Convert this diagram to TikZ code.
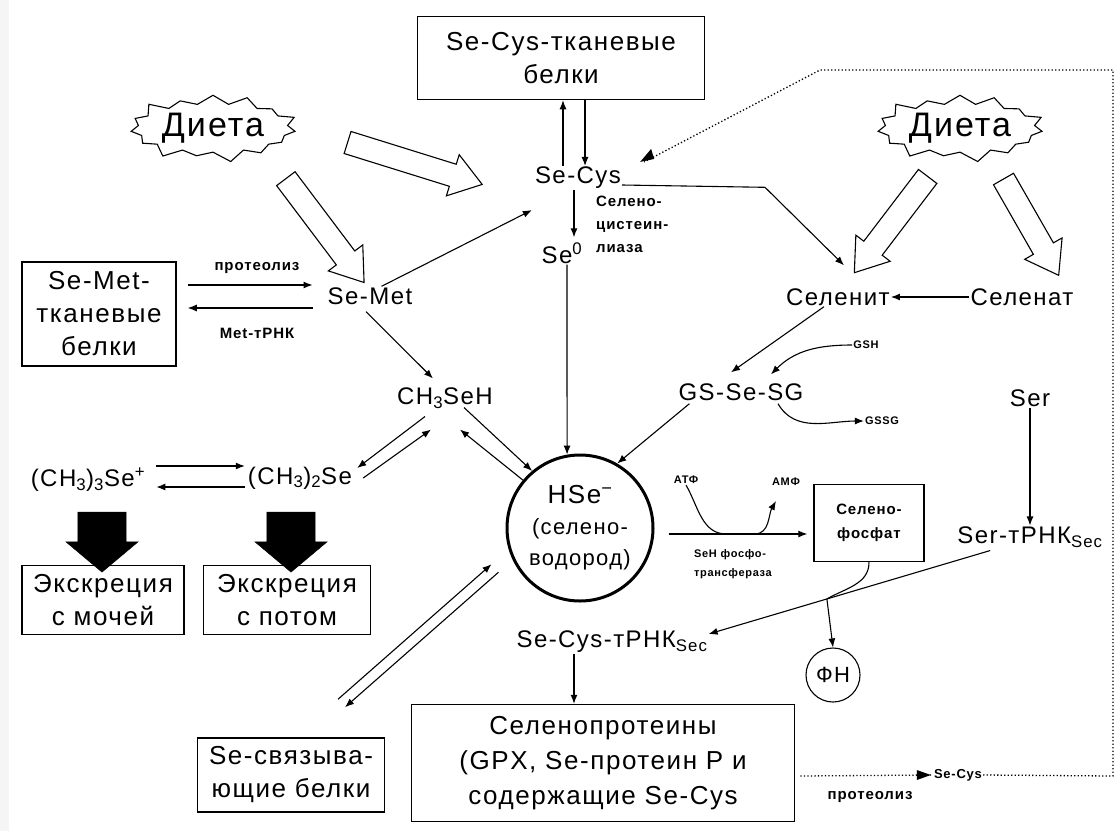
\documentclass[tikz,border=0pt]{standalone}
\usepackage{fontspec}
\setmainfont{Liberation Sans}[LetterSpace=6]
\usetikzlibrary{shapes.symbols,shapes.arrows,shapes.geometric,arrows.meta,calc}
\newcommand\fsz[2]{\fontsize{#1}{#2}\selectfont}
\begin{document}
\begin{tikzpicture}[x=1pt,y=-1pt,
  lab/.style={font=\fsz{24}{28}, inner sep=1pt},
  box/.style={draw, line width=1.5pt, align=center, inner sep=0pt, font=\fsz{26}{33}},
  small/.style={font=\bfseries\fsz{15}{23}, inner sep=1pt, align=left},
  tiny/.style={font=\bfseries\fsz{11}{19}, inner sep=1pt, align=left},
  diet/.style={starburst, draw, line width=1.1pt, starburst points=15, starburst point height=12pt, inner sep=2pt, font=\fsz{34}{36}},
  hollow/.style={single arrow, draw, line width=1.1pt, fill=white, inner xsep=0pt, inner ysep=11pt, single arrow head extend=10pt, single arrow tip angle=70},
  solidarrow/.style={single arrow, draw, fill=black, inner xsep=0pt, inner ysep=24pt, single arrow head extend=12pt, single arrow tip angle=100},
  arr/.style={-{Latex[length=9pt,width=7pt]}, line width=1.1pt},
  dotline/.style={line width=1.3pt, dash pattern=on 1.3pt off 2.2pt}
]
\useasboundingbox (0,0) rectangle (1120,831);
\fill[gray!8] (0,0) rectangle (9,831);

% nodes
\node[box, minimum width=287, minimum height=83] (tbox) at (561,58) {Se-Cys-тканевые\\белки};
\node[lab] (secys) at (578,178) {Se-Cys};
\node[diet] (diet1) at (213,128) {Диета};
\node[diet] (diet2) at (960,128) {Диета};
\node[box, minimum width=154, minimum height=104] (metbox) at (99,314) {Se-Met-\\тканевые\\белки};
\node[lab] (semet) at (370,296) {Se-Met};
\node[lab] (se0) at (562,253) {Se\textsuperscript{0}};
\node[small, anchor=north west] (lyase) at (595,195) {Селено-\\цистеин-\\лиаза};
\node[lab] (selenit) at (838,297) {Селенит};
\node[lab] (selenat) at (1022,297) {Селенат};
\node[lab] (ch3seh) at (445,398) {CH\textsubscript{3}SeH};
\node[lab] (gssg) at (741,392) {GS-Se-SG};
\node[tiny] (gsh) at (866,345) {GSH};
\node[tiny] (gssgout) at (882,421) {GSSG};
\node[lab] (ser) at (1030,398) {Ser};
\node[circle, draw, line width=3pt, minimum size=146, inner sep=0pt, align=center, font=\fsz{22}{31}] (hse) at (580,528) {{\fsz{26}{31}HSe\textsuperscript{−}}\\(селено-\\водород)};
\node[lab] (me3) at (88,480) {(CH\textsubscript{3})\textsubscript{3}Se\textsuperscript{+}};
\node[lab] (me2) at (300,478) {(CH\textsubscript{3})\textsubscript{2}Se};
\node[box, minimum width=162, minimum height=69] (exc1) at (103,600) {Экскреция\\с мочей};
\node[box, minimum width=167, minimum height=69] (exc2) at (287,600) {Экскреция\\с потом};
\node[tiny] (atp) at (686,480) {АТФ};
\node[tiny] (amp) at (786,482) {АМФ};
\node[box, minimum width=110, minimum height=77, font=\bfseries\fsz{15}{24}] (sphos) at (869,523) {Селено-\\фосфат};
\node[tiny, anchor=north] (transf) at (733,548) {SeH фосфо-\\трансфераза};
\node[lab] (sertrna) at (1030,537) {Ser-тРНК\textsubscript{Sec}};
\node[lab] (sectrna) at (612,642) {Se-Cys-тРНК\textsubscript{Sec}};
\node[circle, draw, line width=1.1pt, minimum size=54, inner sep=0pt, font=\fsz{22}{24}] (fn) at (833,675) {ФН};
\node[box, minimum width=383, minimum height=117, font=\fsz{26}{35}] (sprot) at (603,763) {Селенопротеины\\(GPX, Se-протеин P и\\содержащие Se-Cys};
\node[box, minimum width=187, minimum height=74] (sebind) at (291,775) {Se-связыва-\\ющие белки};
\node[small] (prot1) at (257,268) {протеолиз};
\node[small] (metrna) at (257,333) {Met-тРНК};
\node[small] (prot2) at (870,797) {протеолиз};
\node[tiny, font=\bfseries\fsz{13}{15}] (secyssm) at (958,775) {Se-Cys};

% hollow arrows from diet
\node[hollow, minimum height=141, rotate=-17.3] (h1) at (407,161) {};
\node[hollow, minimum height=130, rotate=-53] (h2) at (320,224) {};
\node[hollow, minimum height=121, rotate=-127.3] (h3) at (896,218) {};
\node[hollow, minimum height=111, rotate=-60.2] (h4) at (1027,220) {};
% black excretion arrows
\node[solidarrow, minimum height=60, rotate=-90] (b1) at (102,532) {};
\node[solidarrow, minimum height=60, rotate=-90] (b2) at (291,532) {};

% connectors
\draw[arr] ($(secys.north -| tbox.south)+(2,0)$) -- ($(tbox.south)+(2,0)$);
\draw[arr] ($(tbox.south)+(24,0)$) -- ($(secys.north -| tbox.south)+(24,0)$);
\draw[arr] ($(secys.south -| se0.north)+(12,0)$) -- ($(se0.north)+(12,-4)$);
\draw[arr] ($(se0.south)+(5,0)$) -- (hse.100);
\draw[arr] (semet.40) -- ($(secys.south west)+(-2,20)$);
\draw[arr] ($(metbox.east)+(11,-29)$) -- ($(semet.west)+(-14,-11)$);
\draw[arr] ($(semet.west)+(-14,12)$) -- ($(metbox.east)+(11,-6)$);
\draw[arr] ($(semet.south)+(-4,6)$) -- ($(ch3seh.north)+(-12,-8)$);
\draw[arr] ($(ch3seh.south)+(-20,7)$) -- ($(me2.east)+(4,-10)$);
\draw[arr] ($(me2.east)+(10,0)$) -- ($(ch3seh.south)+(-14,20)$);
\draw[arr] ($(me3.east)+(10,-14)$) -- ($(me2.west)+(-2,-12)$);
\draw[arr] ($(me2.west)+(-2,9)$) -- ($(me3.east)+(10,7)$);
\draw[arr] ($(ch3seh.south)+(19,-2)$) -- (hse.130);
\draw[arr] (hse.140) -- ($(ch3seh.south)+(15,20)$);
\draw[arr] ($(secys.east)+(0,7)$) -- ($(selenit.north)+(-73,-100)$) -- ($(selenit.north)+(6,-22)$);
\draw[arr] (selenat.west) -- (selenit.east);
\draw[arr] ($(selenit.south)+(-14,0)$) -- ($(gssg.north)+(-10,-10)$);
\draw[arr] (gsh.west) to[out=180,in=45] ($(gssg.north)+(30,-8)$);
\draw[arr] ($(gssg.south)+(37,2)$) to[out=-60,in=180] (gssgout.west);
\draw[arr] ($(gssg.south west)+(12,2)$) -- (hse.60);
\draw[arr] (ser.south) -- (ser.south |- sertrna.north);
\draw[arr] ($(hse.east)+(14,6)$) -- ($(sphos.west)+(-6,11)$);
\draw[line width=1.1pt] (atp.south) to[out=-60,in=180] ($(hse.east)+(72,6)$);
\draw[arr] ($(hse.east)+(100,6)$) to[out=0,in=-120] ($(amp.south)+(-10,14)$);
\coordinate (sA) at ($(sertrna.south west)+(34,2)$);
\coordinate (sB) at ($(sectrna.east)+(0,-8)$);
\coordinate (jn) at ($(sA)!0.58!(sB)$);
\draw[arr] (sA) -- (sB);
\draw[line width=1.1pt] (sphos.south) to[out=-90,in=30] (jn);
\draw[arr] (jn) -- (fn.north);
\draw[arr] ($(sectrna.south)+(-38,0)$) -- ($(sprot.north)+(-29,0)$);
\draw[arr] ($(sebind.north)+(47,-38)$) -- ($(hse.210)+(-24,-1)$);
\draw[arr] ($(hse.210)+(-17,7)$) -- ($(sebind.north)+(54,-30)$);
% dotted recycling loop
\coordinate (cbr) at (1113,776);
\coordinate (ctr) at (1113,70);
\coordinate (ctl) at (820,70);
\draw[dotline] ($(sprot.east)+(5,13)$) -- (secyssm.west);
\fill ($(secyssm.west)+(-16,-5)$) -- ($(secyssm.west)+(-2,0)$) -- ($(secyssm.west)+(-16,5)$) -- cycle;
\draw[dotline] (secyssm.east) -- (cbr) -- (ctr) -- (ctl) -- ($(secys.north east)+(22,-4)$);
\fill ($(secys.north east)+(18,-4)$) -- ++(14,-3) -- ++(-3,-10) -- cycle;
\end{tikzpicture}
\end{document}
